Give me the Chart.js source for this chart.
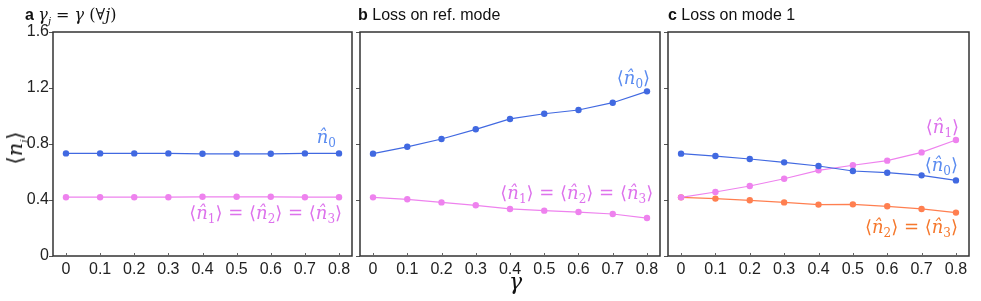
<!DOCTYPE html>
<html>
<head>
<meta charset="utf-8">
<script src="https://cdn.jsdelivr.net/npm/chart.js@4.4.1/dist/chart.umd.min.js"></script>
<style>
  body { margin: 0; background: #fff; width: 981px; height: 301px; overflow: hidden; position: relative;
         font-family: "Liberation Sans", Arial, sans-serif; }
  canvas { position: absolute; top: 0; }
  .title { position: absolute; top: 6px; font-size: 16px; color: #111; white-space: nowrap; line-height: 18px; }
  .math { font-family: "DejaVu Serif", serif; font-size: 16px; }
  .math sub { font-size: 10px; line-height: 0; }
  .ytitle { position: absolute; left: 15px; top: 148px; transform: translate(-50%, -50%) rotate(-90deg);
            white-space: nowrap; color: #111; }
  .xtitle { position: absolute; left: 509px; top: 269px; font-size: 22px; color: #111; }
</style>
</head>
<body>
<canvas id="chartA" width="356" height="301" style="left:0px"></canvas>
<canvas id="chartB" width="308" height="301" style="left:356px"></canvas>
<canvas id="chartC" width="317" height="301" style="left:664px"></canvas>

<div class="title" style="left:25px"><b>a</b> <span class="math"><i>γ<sub>j</sub></i> = <i>γ</i> (∀<i>j</i>)</span></div>
<div class="title" style="left:358px"><b>b</b> Loss on ref. mode</div>
<div class="title" style="left:668px"><b>c</b> Loss on mode 1</div>
<div class="ytitle math" style="font-size:21px">⟨<i>n<sub>j</sub></i>⟩</div>
<div class="xtitle math"><i>γ</i></div>

<script>
// 데이터
const gammaValues = [0, 0.1, 0.2, 0.3, 0.4, 0.5, 0.6, 0.7, 0.8];
const yTicks = [0, 0.4, 0.8, 1.2, 1.6];

// a: 모든 모드에 같은 손실
const aN0   = [0.733, 0.733, 0.733, 0.733, 0.730, 0.730, 0.730, 0.733, 0.733];
const aN123 = [0.420, 0.420, 0.420, 0.420, 0.423, 0.423, 0.423, 0.420, 0.420];

// b: 기준 모드 손실
const bN0   = [0.731, 0.780, 0.836, 0.905, 0.979, 1.016, 1.043, 1.095, 1.176];
const bN123 = [0.419, 0.405, 0.383, 0.362, 0.336, 0.324, 0.314, 0.300, 0.271];

// c: 모드 1 손실
const cN0  = [0.731, 0.714, 0.693, 0.669, 0.643, 0.607, 0.595, 0.576, 0.540];
const cN1  = [0.419, 0.457, 0.500, 0.552, 0.612, 0.648, 0.681, 0.740, 0.829];
const cN23 = [0.419, 0.410, 0.398, 0.383, 0.367, 0.369, 0.355, 0.336, 0.310];

const BLUE = '#4169e1', VIOLET = '#ee82ee', ORANGE = '#ff7f50';
const BLUE_TXT = '#5b8cf0', VIOLET_TXT = '#dd72ec', ORANGE_TXT = '#f5782d';

const SERIF = '"DejaVu Serif", serif';

// 수식 라벨 조각
function hatN(k) {
    return [{ t: 'n\u0302', f: 'italic 18px ' + SERIF }, { t: String(k), f: '12px ' + SERIF, dy: 4 }];
}
function bra(k) {
    return [{ t: '⟨', f: '18px ' + SERIF }, ...hatN(k), { t: '⟩', f: '18px ' + SERIF }];
}
const EQ = { t: ' = ', f: '18px ' + SERIF };

function drawMathLabel(ctx, chart, lab) {
    const x = chart.scales.x.getPixelForValue(lab.x);
    const y = chart.scales.y.getPixelForValue(lab.y);
    let total = 0;
    lab.segs.forEach(s => { ctx.font = s.f; total += ctx.measureText(s.t).width; });
    let cx = x - total;
    ctx.fillStyle = lab.color;
    ctx.textBaseline = 'alphabetic';
    ctx.textAlign = 'left';
    lab.segs.forEach(s => {
        ctx.font = s.f;
        ctx.fillText(s.t, cx, y + (s.dy || 0));
        cx += ctx.measureText(s.t).width;
    });
}

// 테두리, 안쪽 눈금, 라벨
const framePlugin = {
    id: 'frame',
    afterDatasetsDraw(chart, args, opts) {
        const { ctx, chartArea: a } = chart;
        const x = chart.scales.x;
        ctx.save();
        ctx.strokeStyle = '#333';
        ctx.lineWidth = 1.5;
        ctx.strokeRect(a.left, a.top, a.right - a.left, a.bottom - a.top);
        ctx.strokeStyle = '#666';
        ctx.lineWidth = 1;
        gammaValues.forEach(g => {
            const px = Math.round(x.getPixelForValue(g)) + 0.5;
            ctx.beginPath();
            ctx.moveTo(px, a.bottom);
            ctx.lineTo(px, a.bottom - 3);
            ctx.stroke();
        });
        (opts.labels || []).forEach(l => drawMathLabel(ctx, chart, l));
        ctx.restore();
    }
};

function series(data, color) {
    return {
        data: data,
        borderColor: color,
        backgroundColor: color,
        pointBackgroundColor: color,
        pointBorderWidth: 0,
        pointRadius: 3.2,
        borderWidth: 1.2,
        tension: 0
    };
}

function fmt(v) {
    return v === 0 ? '0' : v.toFixed(1);
}

function makeChart(id, yWidth, padRight, showY, datasets, labels) {
    const ctx = document.getElementById(id).getContext('2d');
    return new Chart(ctx, {
        type: 'line',
        data: { labels: gammaValues, datasets: datasets },
        options: {
            responsive: false,
            animation: false,
            layout: { padding: { top: 32, right: padRight, left: 0, bottom: 0 } },
            plugins: { legend: { display: false }, tooltip: { enabled: false }, frame: { labels: labels } },
            scales: {
                x: {
                    type: 'linear',
                    min: -0.038,
                    max: 0.838,
                    afterBuildTicks: s => { s.ticks = gammaValues.map(v => ({ value: v })); },
                    afterFit: s => { s.height = 45; },
                    grid: { display: false },
                    border: { display: false },
                    ticks: { padding: -4, color: '#222', font: { family: 'Liberation Sans', size: 16 }, callback: fmt, maxRotation: 0, autoSkip: false }
                },
                y: {
                    min: 0,
                    max: 1.6,
                    afterBuildTicks: s => { s.ticks = yTicks.map(v => ({ value: v })); },
                    afterFit: s => { s.width = yWidth; },
                    grid: { drawOnChartArea: false, tickLength: 4, color: '#555' },
                    border: { display: false },
                    ticks: { display: showY, padding: 0, color: '#222', font: { family: 'Liberation Sans', size: 16 }, callback: fmt }
                }
            }
        },
        plugins: [framePlugin]
    });
}

makeChart('chartA', 53, 3, true,
    [series(aN0, BLUE), series(aN123, VIOLET)],
    [
        { x: 0.791, y: 0.807, color: BLUE_TXT, segs: hatN(0) },
        { x: 0.809, y: 0.264, color: VIOLET_TXT, segs: [...bra(1), EQ, ...bra(2), EQ, ...bra(3)] }
    ]);

makeChart('chartB', 4, 3, false,
    [series(bN0, BLUE), series(bN123, VIOLET)],
    [
        { x: 0.809, y: 1.229, color: BLUE_TXT, segs: bra(0) },
        { x: 0.818, y: 0.407, color: VIOLET_TXT, segs: [...bra(1), EQ, ...bra(2), EQ, ...bra(3)] }
    ]);

makeChart('chartC', 4, 12, false,
    [series(cN0, BLUE), series(cN1, VIOLET), series(cN23, ORANGE)],
    [
        { x: 0.809, y: 0.879, color: VIOLET_TXT, segs: bra(1) },
        { x: 0.806, y: 0.607, color: BLUE_TXT, segs: bra(0) },
        { x: 0.806, y: 0.164, color: ORANGE_TXT, segs: [...bra(2), EQ, ...bra(3)] }
    ]);
</script>
</body>
</html>
